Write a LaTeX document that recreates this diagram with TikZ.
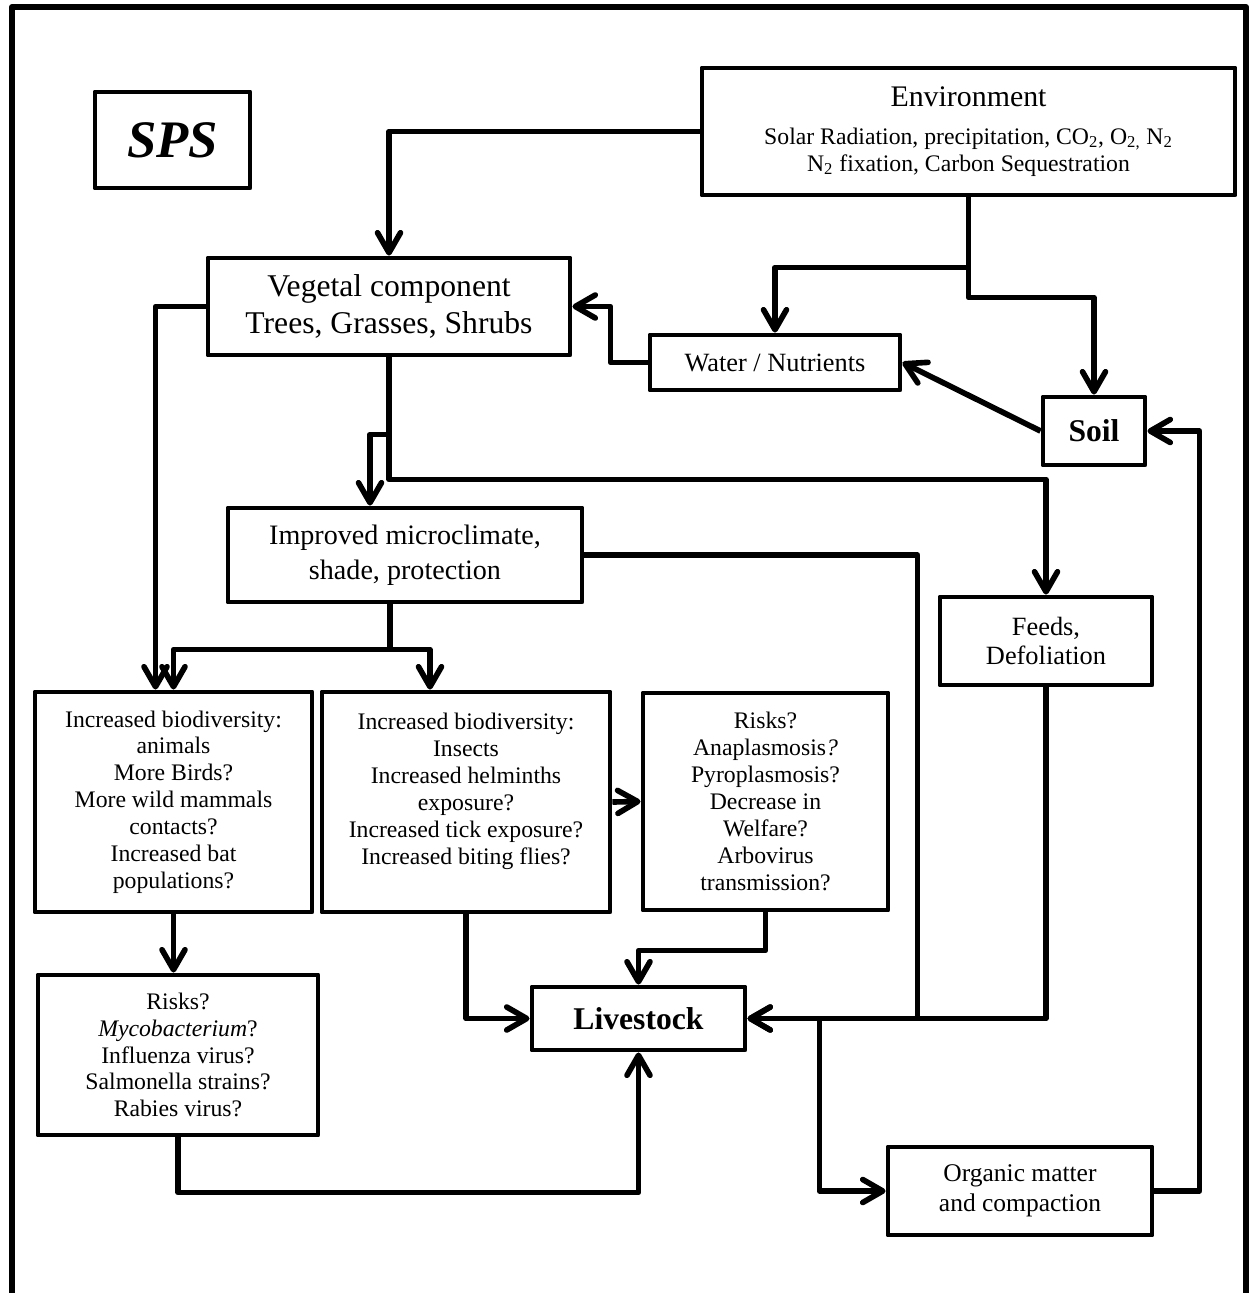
\documentclass[tikz,border=0pt]{standalone}
\usepackage{fontspec}
\setmainfont{Liberation Serif}
\usetikzlibrary{arrows.meta,calc}

\tikzset{
  box/.style={draw, line width=2.8pt, line join=round, align=center, inner sep=0pt},
  link/.style={line width=3.2pt, line join=round, -{Straight Barb[length=4mm,width=4.6mm,round]}},
  wire/.style={line width=3.2pt, line join=round},
  small/.style={font=\fontsize{13.5}{15.3}\selectfont},
}

\begin{document}
\begin{tikzpicture}[x=0.2mm, y=-0.2mm]
        \useasboundingbox (0,0) rectangle (1249,1293);
        % Outer frame
        \draw[wire, line width=3.4pt] (12,1293) -- (12,7) -- (1246,7) -- (1246,1293);

        % Defining the boxes
        \node[box, minimum width=31mm, minimum height=19.2mm, font=\bfseries\itshape\fontsize{30}{34}\selectfont] (sps) at (172.5,140) {SPS};
        \node[box, small, minimum width=106.6mm, minimum height=25.4mm] (env) at (968.5,131.5)
            {{\fontsize{17}{20}\selectfont Environment}\\[6pt]
             Solar Radiation, precipitation, CO\textsubscript{2}, O\textsubscript{2,} N\textsubscript{2}\\
             N\textsubscript{2} fixation, Carbon Sequestration};
        \node[box, minimum width=72.4mm, minimum height=19.4mm, font=\fontsize{18}{21}\selectfont] (veg) at (389,306.5)
            {Vegetal component\\Trees, Grasses, Shrubs};
        \node[box, minimum width=50mm, minimum height=11mm, font=\fontsize{15}{17}\selectfont] (water) at (775,362.5)
            {Water / Nutrients};
        \node[box, minimum width=20.4mm, minimum height=13.6mm, font=\bfseries\fontsize{18}{21}\selectfont] (soil) at (1094,431) {Soil};
        \node[box, minimum width=70.8mm, minimum height=18.8mm, font=\fontsize{16}{19.8}\selectfont] (micro) at (405,555)
            {Improved microclimate,\\shade, protection};
        \node[box, minimum width=42.4mm, minimum height=17.6mm, font=\fontsize{15}{17}\selectfont] (feeds) at (1046,641)
            {Feeds,\\Defoliation};
        \node[box, small, minimum width=55.4mm, minimum height=44mm] (animals) at (173.5,802)
            {Increased biodiversity:\\animals\\More Birds?\\More wild mammals\\contacts?\\Increased bat\\populations?};
        \node[box, small, minimum width=57.6mm, minimum height=44mm] (insects) at (466,802)
            {Increased biodiversity:\\Insects\\Increased helminths\\exposure?\\Increased tick exposure?\\Increased biting flies?\\ \mbox{}};
        \node[box, small, minimum width=49mm, minimum height=43.4mm] (risks) at (765.5,801.5)
            {Risks?\\Anaplasmosis\textit{?}\\Pyroplasmosis?\\Decrease in\\Welfare?\\Arbovirus\\transmission?};
        \node[box, small, minimum width=56mm, minimum height=32mm] (myco) at (178,1055)
            {Risks?\\\textit{Mycobacterium}?\\Influenza virus?\\Salmonella strains?\\Rabies virus?};
        \node[box, minimum width=42.6mm, minimum height=12.6mm, font=\bfseries\fontsize{18}{21}\selectfont] (live) at (638.5,1018.5) {Livestock};
        \node[box, minimum width=52.8mm, minimum height=17.6mm, font=\fontsize{14.5}{17}\selectfont] (organic) at (1020,1191)
            {Organic matter\\and compaction};

        % Split points
        \path (env.south) ++(0,70) coordinate (envsplit);
        \path (veg.south) ++(0,77) coordinate (vegsplit);
        \path (micro.south) ++(-15,45) coordinate (microsplit);

        % Links between the boxes
        \draw[link] (env.west) -| (veg.north);
        \draw[link] (env.south) -- ++(0,100) -| (soil.north);
        \draw[link] (envsplit) -| (water.north);
        \draw[link] (water.west) -- ++(-37,0) |- (veg.east);
        \draw[link] (soil.west) -- (water.east);
        \draw[link] (veg.south) -- ++(0,122) -| (feeds.north);
        \draw[link] (vegsplit) -- ++(-19,0) coordinate (vegbend) -- (vegbend |- micro.north);
        \draw[link] (veg.west) -| ($(animals.north)+(-18,0)$);
        \draw[wire] (microsplit |- micro.south) -- (microsplit);
        \draw[link] (microsplit) -| (animals.north);
        \draw[link] (microsplit) -| ($(insects.north)+(-36,0)$);
        \draw[link] (insects.east) -- (risks.west);
        \draw[link] (animals.south) -- (animals.south |- myco.north);

        % Into livestock
        \draw[link] (micro.east) -- ++(333,0) |- (live.east);
        \draw[link] (feeds.south) |- (live.east);
        \draw[link] (insects.south) |- (live.west);
        \draw[link] (risks.south) -- ++(0,38) -| (live.north);
        \draw[link] (myco.south) -- ++(0,55) -| (live.south);

        % Back to the soil
        \draw[link] ($(live.east)+(72,0)$) |- (organic.west);
        \draw[link] (organic.east) -- ++(45,0) |- (soil.east);
\end{tikzpicture}
\end{document}
